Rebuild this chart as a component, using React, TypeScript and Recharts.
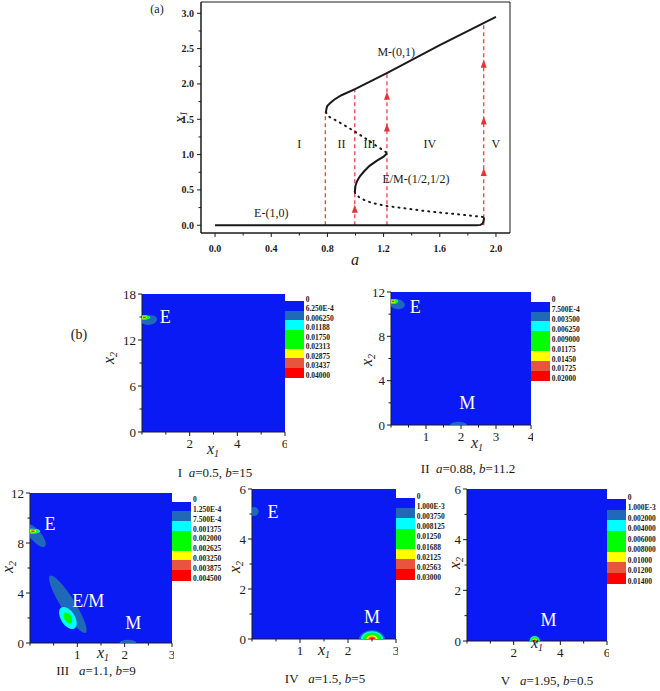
import React from "react";
import {
  ComposedChart,
  Line,
  Scatter,
  XAxis,
  YAxis,
  ReferenceLine,
  ReferenceArea,
  ReferenceDot,
} from "recharts";

const SERIF = '"Liberation Serif", "Times New Roman", serif';
const INK = "#1a1a1a";
const RED = "#e8323a";

// contour bands, lowest to highest
const PALETTE = ["#0a1af5", "#2068b8", "#00ffff", "#00ff00", "#00ff00", "#ffff00", "#e8553f", "#ff0000"];

// ---------- (a) bifurcation diagram: [a, x1] ----------
const stableE: [number, number][] = [
  [0, 0], [0.4, 0], [0.8, 0], [1.2, 0], [1.6, 0], [1.86, 0], [1.89, 0.005],
  [1.903, 0.02], [1.91, 0.045], [1.914, 0.08], [1.915, 0.11],
];
const unstableLow: [number, number][] = [
  [0.995, 0.47], [1.0, 0.44], [1.03, 0.39], [1.08, 0.34], [1.15, 0.3], [1.23, 0.27],
  [1.35, 0.24], [1.5, 0.2], [1.65, 0.17], [1.8, 0.14], [1.915, 0.115],
];
const stableEM: [number, number][] = [
  [0.995, 0.47], [1.0, 0.56], [1.01, 0.62], [1.03, 0.69], [1.06, 0.76],
  [1.1, 0.84], [1.15, 0.91], [1.2, 0.97], [1.225, 1.02],
];
const unstableHigh: [number, number][] = [
  [0.79, 1.6], [0.8, 1.55], [0.9, 1.44], [1.0, 1.32], [1.1, 1.19],
  [1.15, 1.12], [1.2, 1.06], [1.225, 1.02],
];
const stableM: [number, number][] = [
  [0.79, 1.6], [0.793, 1.65], [0.8, 1.69], [0.82, 1.73], [0.85, 1.78],
  [0.9, 1.84], [1.0, 1.93], [1.23, 2.16], [1.6, 2.55], [2.0, 2.95],
];

// red transition lines (a, top of line) and arrows on them
const jumpA = [0.785, 0.995, 1.224, 1.913];
const jumpTop = [1.6, 1.93, 2.16, 2.87];
const arrows: [number, number][] = [
  [0.995, 0.22], [1.224, 1.37], [1.224, 1.82], [1.913, 0.74], [1.913, 1.47], [1.913, 2.27],
];

const regionNames = ["I", "II", "III", "IV", "V"];
const regionA = [0.6, 0.9, 1.1, 1.53, 2.0];
const branchNames = ["M-(0,1)", "E/M-(1/2,1/2)", "E-(1,0)"];
const branchPos: [number, number][] = [[1.29, 2.46], [1.43, 0.66], [0.4, 0.17]];

const aTicks = [0, 0.2, 0.4, 0.6, 0.8, 1.0, 1.2, 1.4, 1.6, 1.8, 2.0];
const aMajor = [0, 0.4, 0.8, 1.2, 1.6, 2.0];
const x1Ticks = [0, 0.25, 0.5, 0.75, 1.0, 1.25, 1.5, 1.75, 2.0, 2.25, 2.5, 2.75, 3.0];
const x1Major = [0, 0.5, 1.0, 1.5, 2.0, 2.5, 3.0];

// ---------- (b) probability density blobs: centre, half extents, tilt, band range ----------
const blobsI = [
  { x: 0.3, y: 14.6, rx: 0.34, ry: 0.62, rot: -10, from: 1, to: 1 },
  { x: 0.1, y: 14.95, rx: 0.24, ry: 0.3, rot: 0, from: 2, to: 7 },
];
const blobsII = [
  { x: 0.18, y: 10.9, rx: 0.22, ry: 0.45, rot: 10, from: 1, to: 1 },
  { x: 0.06, y: 11.15, rx: 0.14, ry: 0.22, rot: 0, from: 2, to: 7 },
  { x: 1.93, y: 0, rx: 0.24, ry: 0.3, rot: 0, from: 1, to: 1 },
];
const blobsIII = [
  { x: 0.12, y: 8.6, rx: 0.3, ry: 0.45, rot: 50, from: 1, to: 1 },
  { x: 0.06, y: 8.95, rx: 0.15, ry: 0.2, rot: 0, from: 2, to: 7 },
  { x: 0.8, y: 3.1, rx: 0.71, ry: 0.56, rot: 58, from: 1, to: 1 },
  { x: 0.8, y: 2.0, rx: 0.26, ry: 0.56, rot: 58, from: 2, to: 3 },
  { x: 2.07, y: 0, rx: 0.18, ry: 0.26, rot: 0, from: 1, to: 1 },
];
const blobsIV = [
  { x: 0.04, y: 5.1, rx: 0.1, ry: 0.18, rot: 0, from: 1, to: 1 },
  { x: 2.5, y: 0, rx: 0.27, ry: 0.36, rot: 0, from: 1, to: 7 },
];
const blobsV = [
  { x: 2.9, y: 0, rx: 0.22, ry: 0.2, rot: 0, from: 2, to: 7 },
];

const tagsI = [{ x: 0.98, y: 15.04, t: "E" }];
const tagsII = [{ x: 0.69, y: 10.7, t: "E" }, { x: 2.18, y: 2.0, t: "M" }];
const tagsIII = [{ x: 0.42, y: 9.58, t: "E" }, { x: 1.23, y: 3.4, t: "E/M" }, { x: 2.18, y: 1.6, t: "M" }];
const tagsIV = [{ x: 0.44, y: 5.08, t: "E" }, { x: 2.5, y: 0.88, t: "M" }];
const tagsV = [{ x: 3.49, y: 0.83, t: "M" }];

const levelsI = ["0", "6.250E-4", "0.006250", "0.01188", "0.01750", "0.02313", "0.02875", "0.03437", "0.04000"];
const levelsII = ["0", "7.500E-4", "0.003500", "0.006250", "0.009000", "0.01175", "0.01450", "0.01725", "0.02000"];
const levelsIII = ["0", "1.250E-4", "7.500E-4", "0.001375", "0.002000", "0.002625", "0.003250", "0.003875", "0.004500"];
const levelsIV = ["0", "1.000E-3", "0.003750", "0.008125", "0.01250", "0.01688", "0.02125", "0.02563", "0.03000"];
const levelsV = ["0", "1.000E-3", "0.002000", "0.004000", "0.006000", "0.008000", "0.01000", "0.01200", "0.01400"];

const toPts = (arr: [number, number][]) => arr.map(([a, x1]) => ({ a, x1 }));
const isIn = (list: number[], v: number) => list.some((m) => Math.abs(m - v) < 1e-6);

// tick renderers: axis drawn with tickSize 0 so x/y sit on the axis line
const bottomTick = (major: number[], fmt: (v: number) => string, fs: number, gap: number, bold = false) =>
  (p: any) => {
    const big = isIn(major, p.payload.value);
    return (
      <g>
        <line x1={p.x} x2={p.x} y1={p.y} y2={p.y + (big ? 4 : 2.5)} stroke={INK} />
        {big && (
          <text x={p.x} y={p.y + gap} textAnchor="middle" dominantBaseline="central"
            style={{ fontFamily: SERIF, fontSize: fs, fontWeight: bold ? "bold" : "normal" }} fill={INK}>
            {fmt(p.payload.value)}
          </text>
        )}
      </g>
    );
  };
const leftTick = (major: number[], fmt: (v: number) => string, fs: number, gap: number, bold = false) =>
  (p: any) => {
    const big = isIn(major, p.payload.value);
    return (
      <g>
        <line x1={p.x} x2={p.x - (big ? 4 : 2.5)} y1={p.y} y2={p.y} stroke={INK} />
        {big && (
          <text x={p.x - gap} y={p.y} textAnchor="end" dominantBaseline="central"
            style={{ fontFamily: SERIF, fontSize: fs, fontWeight: bold ? "bold" : "normal" }} fill={INK}>
            {fmt(p.payload.value)}
          </text>
        )}
      </g>
    );
  };

const Arrow = (p: any) => (
  <path d={`M${p.cx},${p.cy - 5} L${p.cx + 3},${p.cy + 3} L${p.cx - 3},${p.cy + 3} Z`} fill={RED} />
);

const Txt = ({ x, y, size = 13, rot = 0, children, style }: any) => (
  <div
    style={{
      position: "absolute", left: x, top: y, whiteSpace: "nowrap", fontFamily: SERIF, fontSize: size,
      lineHeight: 1, transform: `translate(-50%,-50%) rotate(${rot}deg)`, color: INK, ...style,
    }}
  >
    {children}
  </div>
);

const VarLabel = ({ n }: { n: number }) => (
  <span style={{ fontStyle: "italic" }}>
    x<sub style={{ fontSize: "0.62em", verticalAlign: "-0.3em" }}>{n}</sub>
  </span>
);

function Bifurcation() {
  const fmt = (v: number) => v.toFixed(1);
  return (
    <div style={{ position: "absolute", left: 0, top: 0 }}>
      <ComposedChart width={560} height={275} margin={{ top: 2, right: 50, bottom: 0, left: 0 }}>
        <XAxis type="number" dataKey="a" domain={[-0.1, 2.1]} ticks={aTicks} interval={0}
          allowDataOverflow height={42} axisLine={{ stroke: INK }} tickLine={false} tickSize={0} tickMargin={0}
          tick={bottomTick(aMajor, fmt, 10, 15, true)} />
        <YAxis type="number" dataKey="x1" domain={[-0.11, 3.16]} ticks={x1Ticks} interval={0}
          allowDataOverflow width={201} axisLine={{ stroke: INK }} tickLine={false} tickSize={0} tickMargin={0}
          tick={leftTick(x1Major, fmt, 10, 7, true)} />
        <ReferenceArea x1={-0.1} x2={2.1} y1={-0.11} y2={3.16} fill="none" stroke={INK} />
        {jumpA.map((a, i) => (
          <ReferenceLine key={a} segment={[{ x: a, y: 0 }, { x: a, y: jumpTop[i] }]}
            stroke={RED} strokeWidth={1.2} strokeDasharray="4 3" />
        ))}
        <Line data={toPts(stableE)} dataKey="x1" type="linear" stroke={INK} strokeWidth={2} dot={false} isAnimationActive={false} />
        <Line data={toPts(stableEM)} dataKey="x1" type="linear" stroke={INK} strokeWidth={2} dot={false} isAnimationActive={false} />
        <Line data={toPts(stableM)} dataKey="x1" type="linear" stroke={INK} strokeWidth={2} dot={false} isAnimationActive={false} />
        <Line data={toPts(unstableLow)} dataKey="x1" type="linear" stroke={INK} strokeWidth={2}
          strokeDasharray="1 5" strokeLinecap="round" dot={false} isAnimationActive={false} />
        <Line data={toPts(unstableHigh)} dataKey="x1" type="linear" stroke={INK} strokeWidth={2}
          strokeDasharray="1 5" strokeLinecap="round" dot={false} isAnimationActive={false} />
        <Scatter data={toPts(arrows)} dataKey="x1" shape={Arrow} isAnimationActive={false} />
        {regionNames.map((n, i) => (
          <ReferenceDot key={n} x={regionA[i]} y={1.16} r={0}
            label={{ value: n, position: "center", fill: INK, fontSize: 12, fontFamily: SERIF }} />
        ))}
        {branchNames.map((n, i) => (
          <ReferenceDot key={n} x={branchPos[i][0]} y={branchPos[i][1]} r={0}
            label={{ value: n, position: "center", fill: INK, fontSize: 12, fontFamily: SERIF }} />
        ))}
      </ComposedChart>
    </div>
  );
}

type Blob = { x: number; y: number; rx: number; ry: number; rot: number; from: number; to: number };

function ColorBar({ x, top, band, levels }: { x: number; top: number; band: number; levels: string[] }) {
  return (
    <div style={{ position: "absolute", left: x, top }}>
      {PALETTE.map((c, i) => (
        <div key={i} style={{ position: "absolute", left: 0, top: i * band, width: 19, height: band + 0.5, background: c }} />
      ))}
      {levels.map((t, i) => (
        <div key={i} style={{
          position: "absolute", left: 21, top: i * band - 6.5, fontSize: 7.5, lineHeight: "10px",
          fontWeight: "bold", fontFamily: SERIF, whiteSpace: "nowrap", color: INK,
        }}>{t}</div>
      ))}
    </div>
  );
}

const PT = 12; // room above the plot for the top tick label

function Panel(props: {
  left: number; top: number; w: number; h: number; xMax: number; yMax: number;
  xTicks: number[]; xMajor: number[]; yTicks: number[]; yMajor: number[];
  blobs: Blob[]; tags: { x: number; y: number; t: string }[];
  levels: string[]; barTop: number; band: number;
  caption: React.ReactNode; cap: [number, number]; x1At: [number, number]; x2At: [number, number];
}) {
  const { left, top, w, h, xMax, yMax } = props;
  const kx = w / xMax;
  const ky = h / yMax;
  const fmt = (v: number) => String(v);
  const shape = (p: any) => {
    const b: Blob = p.payload;
    const n = b.to - b.from + 1;
    const rings = [];
    for (let k = 0; k < n; k++) {
      const s = (n - k) / n;
      rings.push(<ellipse key={k} cx={0} cy={0} rx={b.rx * kx * s} ry={b.ry * ky * s} fill={PALETTE[b.from + k]} />);
    }
    return <g transform={`translate(${p.cx},${p.cy}) rotate(${b.rot})`}>{rings}</g>;
  };
  return (
    <>
      <div style={{ position: "absolute", left: left - 30, top: top - PT }}>
        <ComposedChart width={30 + w + 2} height={PT + h + 28} margin={{ top: PT, right: 2, bottom: 0, left: 0 }}>
          <XAxis type="number" dataKey="x" domain={[0, xMax]} ticks={props.xTicks} interval={0}
            allowDataOverflow height={28} axisLine={{ stroke: INK }} tickLine={false} tickSize={0} tickMargin={0}
            tick={bottomTick(props.xMajor, fmt, 13, 11)} />
          <YAxis type="number" dataKey="y" domain={[0, yMax]} ticks={props.yTicks} interval={0}
            allowDataOverflow width={30} axisLine={{ stroke: INK }} tickLine={false} tickSize={0} tickMargin={0}
            tick={leftTick(props.yMajor, fmt, 13, 6)} />
          <ReferenceArea x1={0} x2={xMax} y1={0} y2={yMax} fill={PALETTE[0]} fillOpacity={1} stroke="none" />
          <Scatter data={props.blobs} dataKey="y" shape={shape} isAnimationActive={false} />
          {props.tags.map((t) => (
            <ReferenceDot key={t.t} x={t.x} y={t.y} r={0}
              label={{ value: t.t, position: "center", fill: "#ffffff", fontSize: 18, fontFamily: SERIF }} />
          ))}
        </ComposedChart>
      </div>
      <ColorBar x={left + w} top={props.barTop} band={props.band} levels={props.levels} />
      <Txt x={props.x1At[0]} y={props.x1At[1]} size={16}><VarLabel n={1} /></Txt>
      <Txt x={props.x2At[0]} y={props.x2At[1]} size={16} rot={-90}><VarLabel n={2} /></Txt>
      <Txt x={props.cap[0]} y={props.cap[1]} size={13}>{props.caption}</Txt>
    </>
  );
}

const I = ({ c }: { c: string }) => <span style={{ fontStyle: "italic" }}>{c}</span>;

export default function App() {
  return (
    <div style={{ position: "absolute", left: 0, top: 0, width: 660, height: 691, background: "#fff", overflow: "hidden" }}>
      <Bifurcation />
      <Txt x={157} y={9} size={12}>(a)</Txt>
      <Txt x={181} y={117} size={15} rot={-90}><VarLabel n={1} /></Txt>
      <Txt x={355} y={260} size={16}><I c="a" /></Txt>
      <Txt x={79} y={335} size={14}>(b)</Txt>

      <Panel left={141.7} top={294.3} w={143} h={138} xMax={6} yMax={18}
        xTicks={[0, 1, 2, 3, 4, 5, 6]} xMajor={[2, 4, 6]} yTicks={[0, 3, 6, 9, 12, 15, 18]} yMajor={[0, 6, 12, 18]}
        blobs={blobsI} tags={tagsI} levels={levelsI} barTop={301} band={9.5}
        caption={<>I&nbsp; <I c="a" />=0.5, <I c="b" />=15</>} cap={[215, 472]} x1At={[213, 450]} x2At={[110, 358]} />
      <Panel left={390.7} top={292.3} w={140} h={133} xMax={4} yMax={12}
        xTicks={[0, 0.5, 1, 1.5, 2, 2.5, 3, 3.5, 4]} xMajor={[1, 2, 3, 4]}
        yTicks={[0, 2, 4, 6, 8, 10, 12]} yMajor={[0, 4, 8, 12]}
        blobs={blobsII} tags={tagsII} levels={levelsII} barTop={301.7} band={9.9}
        caption={<>II&nbsp; <I c="a" />=0.88, <I c="b" />=11.2</>} cap={[468, 468]} x1At={[477, 444]} x2At={[368, 360]} />
      <Panel left={30} top={492.7} w={142} h={150} xMax={3} yMax={12}
        xTicks={[0, 0.5, 1, 1.5, 2, 2.5, 3]} xMajor={[1, 2, 3]}
        yTicks={[0, 2, 4, 6, 8, 10, 12]} yMajor={[0, 4, 8, 12]}
        blobs={blobsIII} tags={tagsIII} levels={levelsIII} barTop={501.7} band={9.8}
        caption={<>III&nbsp;&nbsp; <I c="a" />=1.1, <I c="b" />=9</>} cap={[96, 670]} x1At={[103, 654]} x2At={[9, 567]} />
      <Panel left={251.7} top={489} w={144} h={150} xMax={3} yMax={6}
        xTicks={[0, 0.5, 1, 1.5, 2, 2.5, 3]} xMajor={[1, 2, 3]}
        yTicks={[0, 1, 2, 3, 4, 5, 6]} yMajor={[0, 2, 4, 6]}
        blobs={blobsIV} tags={tagsIV} levels={levelsIV} barTop={498} band={10.2}
        caption={<>IV&nbsp;&nbsp; <I c="a" />=1.5, <I c="b" />=5</>} cap={[325, 678]} x1At={[324, 651]} x2At={[236, 567]} />
      <Panel left={466.7} top={489.3} w={140} h={152} xMax={6} yMax={6}
        xTicks={[0, 1, 2, 3, 4, 5, 6]} xMajor={[2, 4, 6]}
        yTicks={[0, 1, 2, 3, 4, 5, 6]} yMajor={[0, 2, 4, 6]}
        blobs={blobsV} tags={tagsV} levels={levelsV} barTop={499} band={10.5}
        caption={<>V&nbsp;&nbsp; <I c="a" />=1.95, <I c="b" />=0.5</>} cap={[547, 680]} x1At={[537, 644]} x2At={[456, 563]} />
    </div>
  );
}
